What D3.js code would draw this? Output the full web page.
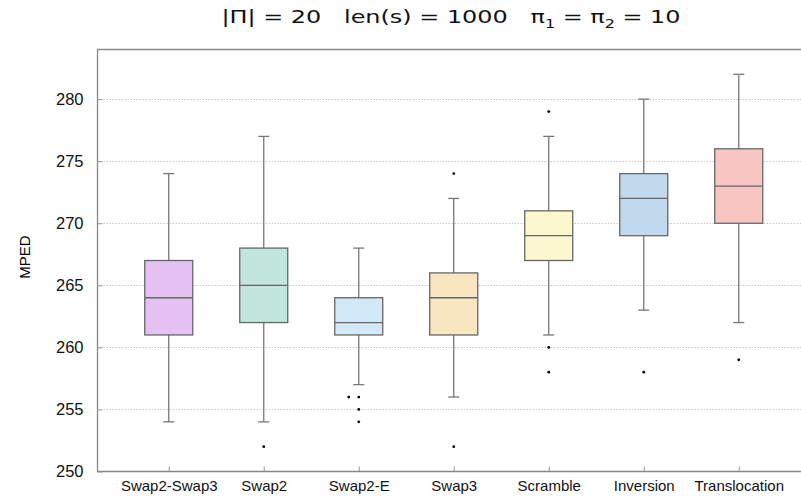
<!DOCTYPE html>
<html>
<head>
<meta charset="utf-8">
<script src="https://cdn.jsdelivr.net/npm/d3@7"></script>
<style>
body { margin: 0; background: #fff; }
</style>
</head>
<body>
<script>
// data
var categories = ["Swap2-Swap3", "Swap2", "Swap2-E", "Swap3", "Scramble", "Inversion", "Translocation"];
var whiskerLow = [254, 254, 257, 256, 261, 263, 262];
var q1 = [261, 262, 261, 261, 267, 269, 270];
var medians = [264, 265, 262, 264, 269, 272, 273];
var q3 = [267, 268, 264, 266, 271, 274, 276];
var whiskerHigh = [274, 277, 268, 272, 277, 280, 282];
var outliers = [[], [252], [256, 256, 255, 254], [274, 252], [279, 260, 258], [258], [259]];
var yTicks = [250, 255, 260, 265, 270, 275, 280];
var colors = ["#e4c1f2", "#c0e6dd", "#d3e9f8", "#f8e6c0", "#fbf7cf", "#c0d9ec", "#f7c6c3"];

// layout
var canvasX = 801;
var canvasY = 501;
var plotLeft = 97.5;
var plotRight = 810;
var plotTop = 49.5;
var plotBottom = 471.5;

var svg = d3.select("body")
            .append("svg")
            .attr("width", canvasX)
            .attr("height", canvasY);

// scales
var scaleX = d3.scaleLinear()
               .domain([0.25, categories.length + 0.75])
               .range([plotLeft, plotRight]);
var scaleY = d3.scaleLinear()
               .domain([250, 284])
               .range([plotBottom, plotTop]);

var boxW = 48;
var capW = 11;

// grid lines
svg.selectAll(".grid")
   .data(yTicks.slice(1))
   .enter().append("line")
   .attr("x1", plotLeft)
   .attr("x2", plotRight)
   .attr("y1", function(d) { return Math.round(scaleY(d)) + 0.5; })
   .attr("y2", function(d) { return Math.round(scaleY(d)) + 0.5; })
   .attr("stroke", "#c8c8c8")
   .attr("stroke-width", 1)
   .attr("stroke-dasharray", "1.5,1.5");

// y axis
var yAxis = d3.axisLeft(scaleY)
              .tickValues(yTicks)
              .tickSize(-5)
              .tickPadding(14);
var gy = svg.append("g")
            .attr("transform", "translate(" + plotLeft + ",0)")
            .call(yAxis);
gy.select(".domain").remove();
gy.selectAll(".tick line").attr("stroke", "#999");
gy.selectAll("text")
  .style("font-family", "Liberation Sans, Arial, sans-serif")
  .style("font-size", "16.5px")
  .attr("fill", "#111");

// x axis
var xAxis = d3.axisBottom(scaleX)
              .tickValues(d3.range(1, categories.length + 1))
              .tickFormat(function(d) { return categories[d - 1]; })
              .tickSize(-5)
              .tickPadding(9);
var gx = svg.append("g")
            .attr("transform", "translate(0," + plotBottom + ")")
            .call(xAxis);
gx.select(".domain").remove();
gx.selectAll(".tick line").attr("stroke", "#999");
gx.selectAll("text")
  .style("font-family", "Liberation Sans, Arial, sans-serif")
  .style("font-size", "15px")
  .attr("fill", "#111");

// frame (left, top, bottom)
svg.append("path")
   .attr("d", "M" + plotRight + "," + plotTop + "H" + plotLeft + "V" + plotBottom + "H" + plotRight)
   .attr("fill", "none")
   .attr("stroke", "#888")
   .attr("stroke-width", 1.3);

// boxes
var idx = d3.range(categories.length);
var box = svg.selectAll(".box")
             .data(idx)
             .enter().append("g")
             .attr("class", "box");

// whiskers
box.append("line")
   .attr("x1", function(i) { return scaleX(i + 1); })
   .attr("x2", function(i) { return scaleX(i + 1); })
   .attr("y1", function(i) { return scaleY(whiskerLow[i]); })
   .attr("y2", function(i) { return scaleY(whiskerHigh[i]); })
   .attr("stroke", "#777")
   .attr("stroke-width", 1.3);

box.selectAll(".cap")
   .data(function(i) { return [[i, whiskerLow[i]], [i, whiskerHigh[i]]]; })
   .enter().append("line")
   .attr("x1", function(d) { return scaleX(d[0] + 1) - capW / 2; })
   .attr("x2", function(d) { return scaleX(d[0] + 1) + capW / 2; })
   .attr("y1", function(d) { return scaleY(d[1]); })
   .attr("y2", function(d) { return scaleY(d[1]); })
   .attr("stroke", "#777")
   .attr("stroke-width", 1.3);

box.append("rect")
   .attr("x", function(i) { return scaleX(i + 1) - boxW / 2; })
   .attr("y", function(i) { return scaleY(q3[i]); })
   .attr("width", boxW)
   .attr("height", function(i) { return scaleY(q1[i]) - scaleY(q3[i]); })
   .attr("fill", function(i) { return colors[i]; })
   .attr("stroke", "#666")
   .attr("stroke-width", 1.3);

box.append("line")
   .attr("x1", function(i) { return scaleX(i + 1) - boxW / 2; })
   .attr("x2", function(i) { return scaleX(i + 1) + boxW / 2; })
   .attr("y1", function(i) { return scaleY(medians[i]); })
   .attr("y2", function(i) { return scaleY(medians[i]); })
   .attr("stroke", "#666")
   .attr("stroke-width", 1.3);

// outliers, duplicates shifted left
var points = [];
outliers.forEach(function(list, i) {
    var seen = {};
    list.forEach(function(v) {
        seen[v] = (seen[v] || 0) + 1;
        points.push([i, v, seen[v] - 1]);
    });
});
svg.selectAll(".outlier")
   .data(points)
   .enter().append("circle")
   .attr("cx", function(d) { return scaleX(d[0] + 1) - 10 * d[2]; })
   .attr("cy", function(d) { return scaleY(d[1]); })
   .attr("r", 1.4)
   .attr("fill", "#000");

// y label
svg.append("text")
   .attr("transform", "translate(30,257) rotate(-90)")
   .attr("text-anchor", "middle")
   .style("font-family", "Liberation Sans, Arial, sans-serif")
   .style("font-size", "15px")
   .text("MPED");

// title (the original font is wider, so stretch it)
var title = svg.append("text")
               .attr("transform", "translate(451,23) scale(1.33,1)")
               .attr("text-anchor", "middle")
               .style("font-family", "DejaVu Sans, Verdana, sans-serif")
               .style("font-size", "18px")
               .style("white-space", "pre")
               .attr("fill", "#111");
title.append("tspan").text("|\u03A0| = 20   len(s) = 1000   \u03C0");
title.append("tspan").attr("dy", 5).style("font-size", "12px").text("1");
title.append("tspan").attr("dy", -5).text(" = \u03C0");
title.append("tspan").attr("dy", 5).style("font-size", "12px").text("2");
title.append("tspan").attr("dy", -5).text(" = 10");
</script>
</body>
</html>
